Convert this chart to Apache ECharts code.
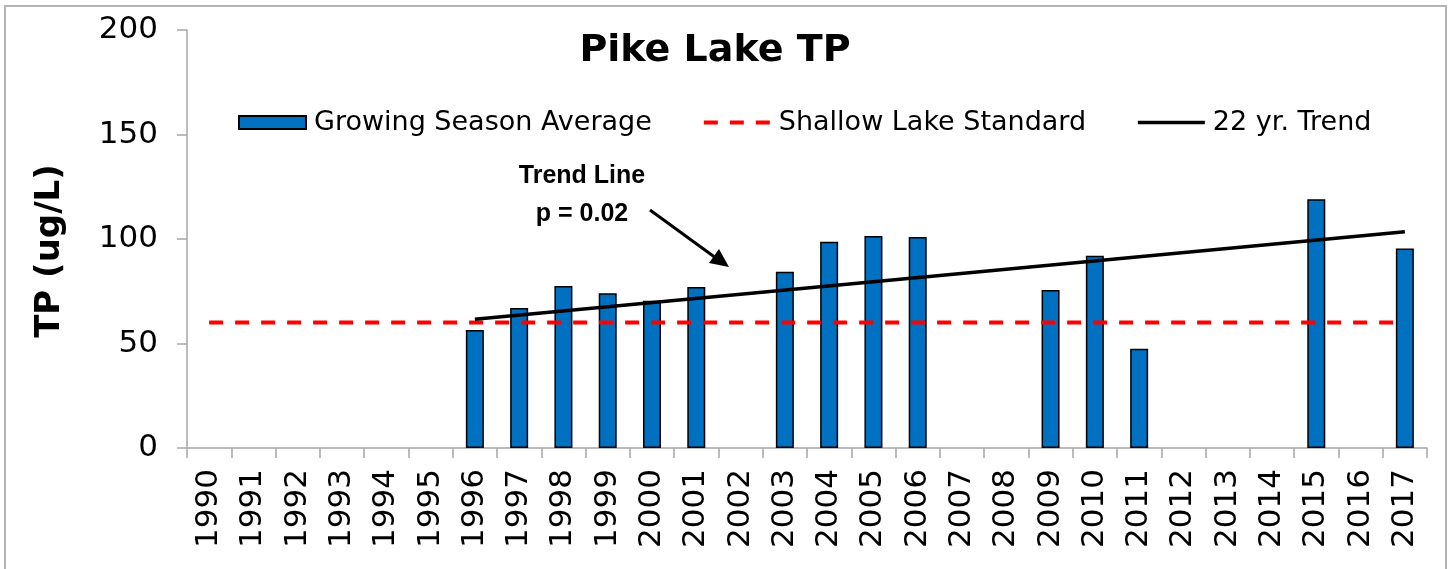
<!DOCTYPE html>
<html>
<head>
    <meta charset="UTF-8" />
    <title>Pike Lake TP</title>
    <script src="https://cdn.jsdelivr.net/npm/echarts@6/dist/echarts.min.js"></script>
    <style>
        html, body { margin: 0; padding: 0; background: #fff; }
        #chartDiv { width: 1452px; height: 569px; }
    </style>
</head>
<body>
    <div id="chartDiv"></div>
    <script type="text/javascript">
        //年份
        var years = ['1990', '1991', '1992', '1993', '1994', '1995', '1996', '1997', '1998', '1999',
                     '2000', '2001', '2002', '2003', '2004', '2005', '2006', '2007', '2008', '2009',
                     '2010', '2011', '2012', '2013', '2014', '2015', '2016', '2017'];
        //生长季平均值 (ug/L)
        var growingSeason = [null, null, null, null, null, null, 56.5, 67, 77.5, 74,
                             70.5, 77, null, 84.3, 98.7, 101.4, 101, null, null, 75.6,
                             92, 47.5, null, null, null, 119, null, 95.4];
        //浅水湖标准
        var standardValue = 60;
        //22年趋势线, 1996 与 2017 两端
        var trendStart = { year: '1996', value: 61.6 };
        var trendEnd = { year: '2017', value: 103.5 };
        //y轴刻度
        var yTicks = { min: 0, max: 200, interval: 50 };

        var standardData = years.map(function () { return standardValue; });
        var trendData = years.map(function (y) {
            if (y === trendStart.year) return trendStart.value;
            if (y === trendEnd.year) return trendEnd.value;
            return null;
        });

        var font = 'DejaVu Sans';
        var dashStyle = { color: '#ff0000', width: 4, type: [14, 12], cap: 'butt' };
        var trendStyle = { color: '#000', width: 3.5 };
        var myChart = echarts.init(document.getElementById('chartDiv'));
        var option = {
            animation: false,
            backgroundColor: '#ffffff',
            title: {
                text: 'Pike Lake TP',
                left: 710,
                top: 27,
                textAlign: 'center',
                textStyle: { fontFamily: font, fontSize: 38, fontWeight: 'bold', color: '#000' }
            },
            legend: {
                left: 233,
                top: 104,
                itemWidth: 67,
                itemHeight: 13,
                itemGap: 50,
                textStyle: { fontFamily: font, fontSize: 27, color: '#000', padding: [0, 0, 0, 3] },
                data: [
                    { name: 'Growing Season Average', icon: 'rect' },
                    { name: 'Shallow Lake Standard', itemStyle: { opacity: 0 }, lineStyle: dashStyle },
                    { name: '22 yr. Trend', itemStyle: { opacity: 0 }, lineStyle: trendStyle }
                ]
            },
            grid: { left: 187, right: 25, top: 30, bottom: 121 },
            xAxis: {
                type: 'category',
                data: years,
                axisLine: { lineStyle: { color: '#a6a6a6', width: 1.5 } },
                axisTick: { show: true, length: 10, lineStyle: { color: '#a6a6a6', width: 1.5 } },
                axisLabel: { rotate: 90, margin: 21, fontFamily: font, fontSize: 31, color: '#000', interval: 0 }
            },
            yAxis: {
                type: 'value',
                min: yTicks.min,
                max: yTicks.max,
                interval: yTicks.interval,
                name: 'TP (ug/L)',
                nameLocation: 'middle',
                nameGap: 120,
                nameTextStyle: {
                    fontFamily: font, fontSize: 34, fontWeight: 'bold', color: '#000',
                    padding: [0, 24, 0, 0]
                },
                axisLine: { show: true, lineStyle: { color: '#a6a6a6', width: 1.5 } },
                axisTick: { show: true, length: 10, lineStyle: { color: '#a6a6a6', width: 1.5 } },
                axisLabel: { margin: 29, fontFamily: font, fontSize: 31, color: '#000' },
                splitLine: { show: false }
            },
            series: [
                {
                    name: 'Growing Season Average',
                    type: 'bar',
                    data: growingSeason,
                    barWidth: 18,
                    itemStyle: { color: '#0070C0', borderColor: '#000', borderWidth: 1.5 },
                    z: 2
                },
                {
                    name: 'Shallow Lake Standard',
                    type: 'line',
                    data: standardData,
                    symbol: 'none',
                    lineStyle: dashStyle,
                    itemStyle: { color: '#ff0000' },
                    z: 3
                },
                {
                    name: '22 yr. Trend',
                    type: 'line',
                    data: trendData,
                    connectNulls: true,
                    symbol: 'none',
                    lineStyle: trendStyle,
                    itemStyle: { color: '#000' },
                    z: 4
                }
            ],
            //外边框和趋势线注释
            graphic: [
                {
                    type: 'rect',
                    shape: { x: 5, y: 6, width: 1441, height: 580 },
                    style: { fill: 'none', stroke: '#b4b4b4', lineWidth: 2 },
                    silent: true
                },
                {
                    type: 'text',
                    x: 582,
                    y: 157,
                    style: {
                        text: 'Trend Line\np = 0.02',
                        font: 'bold 25px "Liberation Sans"',
                        lineHeight: 38,
                        fill: '#000',
                        align: 'center',
                        verticalAlign: 'top'
                    }
                },
                {
                    type: 'line',
                    shape: { x1: 650, y1: 210, x2: 720, y2: 261 },
                    style: { stroke: '#000', lineWidth: 3 }
                },
                {
                    type: 'polygon',
                    shape: { points: [[729, 267], [709, 263], [719, 249]] },
                    style: { fill: '#000' }
                }
            ]
        };
        myChart.setOption(option);
    </script>
</body>
</html>
